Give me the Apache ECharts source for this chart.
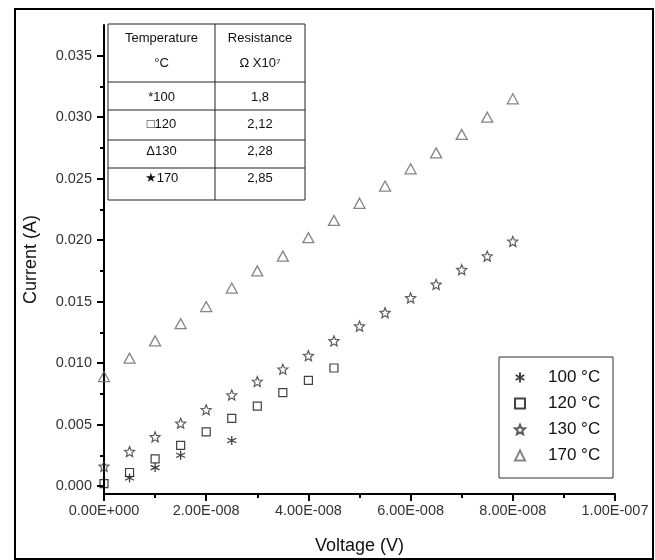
<!DOCTYPE html>
<html>
<head>
<meta charset="utf-8">
<script src="https://cdn.jsdelivr.net/npm/echarts@6/dist/echarts.min.js"></script>
<style>
  html, body { margin: 0; padding: 0; background: #fff; }
  #chart { width: 655px; height: 560px; }
</style>
</head>
<body>
<div id="chart"></div>
<script>
  // data
  var seriesNames = ['100 °C', '120 °C', '130 °C', '170 °C']
  var t100 = [[5e-9, 0.00065], [1e-8, 0.0015], [1.5e-8, 0.0025], [2.5e-8, 0.0037]]
  var t120 = [[0, 0.0002], [5e-9, 0.0011], [1e-8, 0.0022], [1.5e-8, 0.0033], [2e-8, 0.0044],
    [2.5e-8, 0.0055], [3e-8, 0.0065], [3.5e-8, 0.0076], [4e-8, 0.0086], [4.5e-8, 0.0096]]
  var t130 = [[0, 0.0016], [5e-9, 0.0028], [1e-8, 0.0040], [1.5e-8, 0.0051], [2e-8, 0.0062],
    [2.5e-8, 0.0074], [3e-8, 0.0085], [3.5e-8, 0.0095], [4e-8, 0.0106], [4.5e-8, 0.0118],
    [5e-8, 0.0130], [5.5e-8, 0.0141], [6e-8, 0.0153], [6.5e-8, 0.0164], [7e-8, 0.0176],
    [7.5e-8, 0.0187], [8e-8, 0.0199]]
  var t170 = [[0, 0.0089], [5e-9, 0.0104], [1e-8, 0.0118], [1.5e-8, 0.0132], [2e-8, 0.0146],
    [2.5e-8, 0.0161], [3e-8, 0.0175], [3.5e-8, 0.0187], [4e-8, 0.0202], [4.5e-8, 0.0216],
    [5e-8, 0.0230], [5.5e-8, 0.0244], [6e-8, 0.0258], [6.5e-8, 0.0271], [7e-8, 0.0286],
    [7.5e-8, 0.0300], [8e-8, 0.0315]]
  var yTicks = [0, 0.005, 0.01, 0.015, 0.02, 0.025, 0.03, 0.035]
  var yMinor = [0.0025, 0.0075, 0.0125, 0.0175, 0.0225, 0.0275, 0.0325]

  // inset table
  var tableHead = [['Temperature', '°C'], ['Resistance', 'Ω X10⁷']]
  var tableTemps = ['*100', '□120', 'Δ130', '★170']
  var tableRes = ['1,8', '2,12', '2,28', '2,85']

  var asterisk = 'path://M5,0L5,10M0.67,2.5L9.33,7.5M0.67,7.5L9.33,2.5'
  var star = 'path://M0,-10L2.65,-3.64L9.51,-3.09L4.28,1.39L5.88,8.09L0,4.5L-5.88,8.09L-4.28,1.39L-9.51,-3.09L-2.65,-3.64Z'

  function fmtX(v) {
    if (Math.abs(v) < 1e-20) return '0.00E+000'
    var s = v.toExponential(2).split('e')
    var e = parseInt(s[1], 10)
    return s[0] + 'E' + (e < 0 ? '-' : '+') + String(Math.abs(e)).padStart(3, '0')
  }

  // table graphics
  var tL = 108, tM = 215, tR = 305, tT = 24, tB = 200
  var rowLines = [82, 110, 140, 168]
  var rowY = [97, 124, 151, 178]
  var cx1 = (tL + tM) / 2, cx2 = (tM + tR) / 2
  var lineStyle = { stroke: '#222', lineWidth: 1 }
  var txtFont = { fill: '#111', fontSize: 13, fontFamily: 'Liberation Sans, Arial, sans-serif', align: 'center', verticalAlign: 'middle' }
  var graphics = [
    { type: 'rect', shape: { x: 15, y: 9, width: 638, height: 550 }, style: { fill: 'none', stroke: '#000', lineWidth: 2 }, silent: true },
    { type: 'rect', shape: { x: 499, y: 357, width: 114, height: 121 }, style: { fill: 'none', stroke: '#333', lineWidth: 1 }, silent: true },
    { type: 'rect', shape: { x: tL, y: tT, width: tR - tL, height: tB - tT }, style: Object.assign({ fill: '#fff' }, lineStyle), silent: true },
    { type: 'line', shape: { x1: tM, y1: tT, x2: tM, y2: tB }, style: lineStyle, silent: true }
  ]
  rowLines.forEach(function (y) {
    graphics.push({ type: 'line', shape: { x1: tL, y1: y, x2: tR, y2: y }, style: lineStyle, silent: true })
  })
  graphics.push({ type: 'text', style: Object.assign({ x: cx1, y: 38, text: tableHead[0][0] }, txtFont) })
  graphics.push({ type: 'text', style: Object.assign({ x: cx1, y: 63, text: tableHead[0][1] }, txtFont) })
  graphics.push({ type: 'text', style: Object.assign({ x: cx2, y: 38, text: tableHead[1][0] }, txtFont) })
  graphics.push({ type: 'text', style: Object.assign({ x: cx2, y: 63, text: tableHead[1][1] }, txtFont) })
  for (var i = 0; i < tableTemps.length; i++) {
    graphics.push({ type: 'text', style: Object.assign({ x: cx1, y: rowY[i], text: tableTemps[i] }, txtFont) })
    graphics.push({ type: 'text', style: Object.assign({ x: cx2, y: rowY[i], text: tableRes[i] }, txtFont) })
  }

  var chart = echarts.init(document.getElementById('chart'))
  var option = {
    animation: false,
    backgroundColor: '#fff',
    textStyle: { fontFamily: 'Liberation Sans, Arial, sans-serif' },
    grid: { left: 104, right: 40, top: 25, bottom: 65, containLabel: false },
    legend: {
      data: seriesNames,
      orient: 'vertical',
      left: 514,
      top: 369,
      padding: 0,
      itemWidth: 10,
      itemHeight: 10,
      itemGap: 9,
      selectedMode: false,
      textStyle: { fontSize: 17, color: '#111', padding: [0, 0, 0, 18] }
    },
    xAxis: {
      type: 'value',
      min: 0,
      max: 1e-7,
      interval: 2e-8,
      name: 'Voltage (V)',
      nameLocation: 'middle',
      nameGap: 43,
      nameTextStyle: { fontSize: 18, color: '#111' },
      axisLine: { show: true, onZero: false, lineStyle: { color: '#000', width: 2 } },
      axisTick: { show: true, length: 7, lineStyle: { color: '#000', width: 2 } },
      minorTick: { show: true, splitNumber: 2, length: 4, lineStyle: { color: '#000', width: 2 } },
      axisLabel: { formatter: fmtX, fontSize: 14.5, color: '#333', margin: 9, showMaxLabel: true },
      splitLine: { show: false }
    },
    yAxis: [{
      type: 'value',
      min: -0.00065,
      max: 0.0375,
      name: 'Current (A)',
      nameLocation: 'middle',
      nameGap: 64,
      nameTextStyle: { fontSize: 18, color: '#111' },
      axisLine: { show: true, onZero: false, lineStyle: { color: '#000', width: 2 } },
      axisTick: { show: true, length: 7, customValues: yTicks, lineStyle: { color: '#000', width: 2 } },
      axisLabel: { customValues: yTicks, formatter: function (v) { return v.toFixed(3) }, fontSize: 14.5, color: '#333', margin: 12 },
      splitLine: { show: false }
    }, {
      type: 'value',
      min: -0.00065,
      max: 0.0375,
      position: 'left',
      axisLine: { show: false },
      axisTick: { show: true, length: 4, customValues: yMinor, lineStyle: { color: '#000', width: 2 } },
      axisLabel: { show: false },
      splitLine: { show: false }
    }],
    series: [
      {
        name: seriesNames[0], type: 'scatter', data: t100, symbol: asterisk, symbolSize: 9,
        itemStyle: { color: 'transparent', borderColor: '#111', borderWidth: 1.3 }
      },
      {
        name: seriesNames[1], type: 'scatter', data: t120, symbol: 'rect', symbolSize: 8,
        itemStyle: { color: 'transparent', borderColor: '#111', borderWidth: 1.2 }
      },
      {
        name: seriesNames[2], type: 'scatter', data: t130, symbol: star, symbolSize: 10,
        itemStyle: { color: 'transparent', borderColor: '#333', borderWidth: 1.2 }
      },
      {
        name: seriesNames[3], type: 'scatter', data: t170, symbol: 'triangle', symbolSize: [11, 10],
        itemStyle: { color: 'transparent', borderColor: '#666', borderWidth: 1.3 }
      }
    ],
    graphic: graphics
  }
  chart.setOption(option)
</script>
</body>
</html>
